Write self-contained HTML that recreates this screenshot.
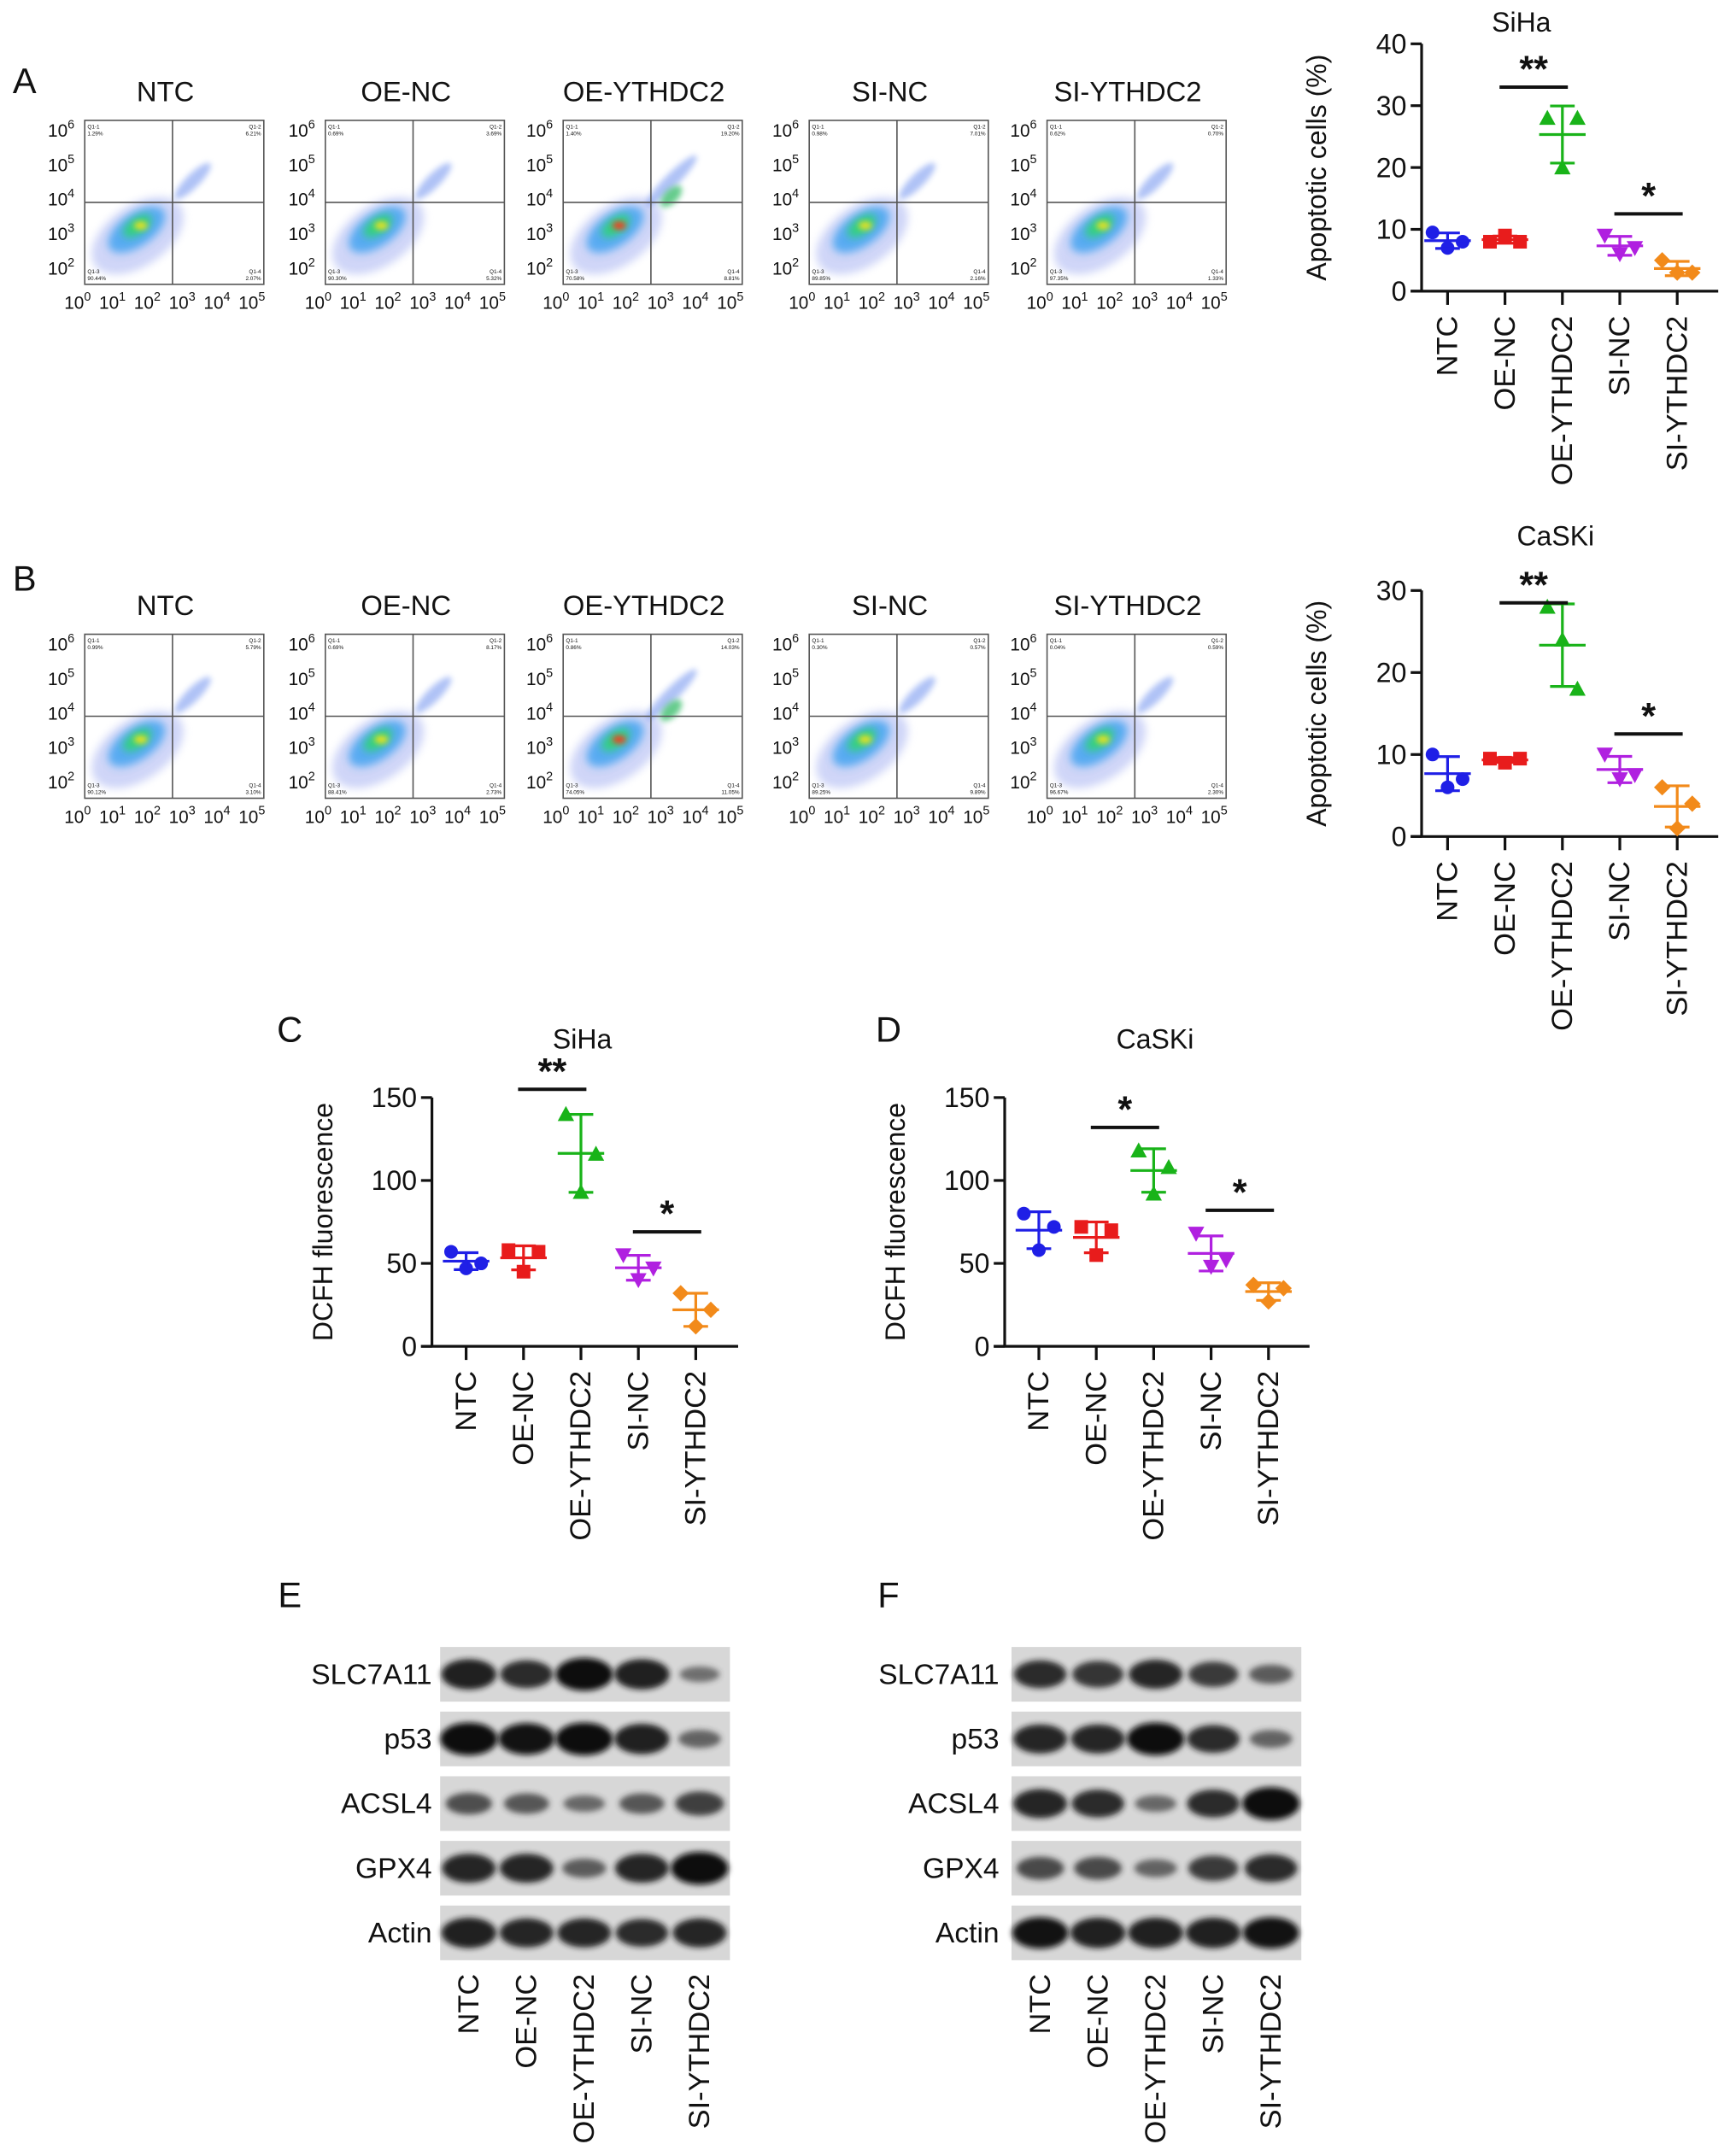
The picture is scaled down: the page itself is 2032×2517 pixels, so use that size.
<!DOCTYPE html>
<html><head><meta charset="utf-8"><style>
html,body{margin:0;padding:0;background:#fff;}
svg{display:block;font-family:"Liberation Sans",Arial,sans-serif;}
</style></head><body>
<svg id="fig" xmlns="http://www.w3.org/2000/svg" width="2032" height="2517" viewBox="0 0 1270 1573">
<defs>
<filter id="blur" x="-50%" y="-50%" width="200%" height="200%"><feGaussianBlur stdDeviation="2.2"/></filter>
<filter id="fblur" x="-50%" y="-50%" width="200%" height="200%"><feGaussianBlur stdDeviation="3"/></filter>
</defs>
<rect width="1270" height="1573" fill="#fff"/>
<g id="root"></g>
</svg>
<script>
// ---- data ----
var categories = ["NTC","OE-NC","OE-YTHDC2","SI-NC","SI-YTHDC2"];
var colors = ["#1f1fe6","#e81c1c","#19b319","#b020e0","#f28a1a"];
var sihaApopValues = [[9.5,7,8],[8,9,8],[28,20,28],[9,6,7],[5,3,3]];
var caskiApopValues = [[10,6,7],[9.5,9,9.5],[28,24,18],[10,7,7.5],[6,1,4]];
var sihaDcfhValues = [[57,47,50],[58,45,57],[140,93,116],[55,40,47],[32,12,22]];
var caskiDcfhValues = [[80,58,72],[72,55,70],[118,92,108],[68,48,52],[37,27,35]];
var apopTicksA = [0,10,20,30,40];
var apopTicksB = [0,10,20,30];
var dcfhTicks = [0,50,100,150];
var blotRows = ["SLC7A11","p53","ACSL4","GPX4","Actin"];
var blotE = [[0.9,0.8,1.0,0.9,0.3],[1,0.95,1.0,0.9,0.4],[0.55,0.5,0.35,0.5,0.65],[0.85,0.85,0.45,0.85,1],[0.9,0.85,0.85,0.8,0.85]];
var blotF = [[0.8,0.75,0.85,0.7,0.45],[0.85,0.85,1,0.8,0.4],[0.85,0.8,0.35,0.8,1],[0.6,0.6,0.4,0.7,0.8],[0.95,0.9,0.9,0.9,0.95]];
var quadA = [["1.29%","6.21%","90.44%","2.07%"],["0.69%","3.69%","90.30%","5.32%"],["1.40%","19.20%","70.58%","8.81%"],["0.98%","7.01%","89.85%","2.16%"],["0.62%","0.70%","97.35%","1.33%"]];
var quadB = [["0.99%","5.79%","90.12%","3.10%"],["0.69%","8.17%","88.41%","2.73%"],["0.86%","14.03%","74.05%","11.05%"],["0.30%","0.57%","89.25%","9.89%"],["0.04%","0.59%","96.67%","2.30%"]];
// ---- helpers ----
var NS="http://www.w3.org/2000/svg";
var root=document.getElementById('root');
function mk(tag,attrs,parent,text){var e=document.createElementNS(NS,tag);for(var k in attrs)e.setAttribute(k,attrs[k]);if(text!==undefined)e.textContent=text;(parent||root).appendChild(e);return e;}
function txt(x,y,s,size,parent,anchor,extra){var a={x:x,y:y,'font-size':size,'text-anchor':anchor||'middle',fill:'#111'};if(extra)for(var k in extra)a[k]=extra[k];return mk('text',a,parent,s);}
function sup(x,y,e,parent){var t=mk('text',{x:x,y:y,'font-size':13,'text-anchor':'start',fill:'#111'},parent);
 var a=document.createElementNS(NS,'tspan');a.textContent='10';t.appendChild(a);var b=document.createElementNS(NS,'tspan');b.setAttribute('dy','-6');b.setAttribute('font-size','9');b.textContent=e;t.appendChild(b);return t;}
function mean(a){return a.reduce(function(s,v){return s+v;},0)/a.length;}
function sd(a){var m=mean(a);return Math.sqrt(a.reduce(function(s,v){return s+(v-m)*(v-m);},0)/(a.length-1));}
function marker(g,shape,x,y,c){var r=5;var p;
 if(shape==0)p=mk('circle',{cx:x,cy:y,r:r,fill:c},g);
 else if(shape==1)p=mk('rect',{x:x-r,y:y-r,width:2*r,height:2*r,fill:c},g);
 else if(shape==2)p=mk('polygon',{points:(x)+','+(y-r-1)+' '+(x+r+1)+','+(y+r)+' '+(x-r-1)+','+(y+r),fill:c},g);
 else if(shape==3)p=mk('polygon',{points:(x-r-1)+','+(y-r)+' '+(x+r+1)+','+(y-r)+' '+x+','+(y+r+1),fill:c},g);
 else p=mk('polygon',{points:x+','+(y-r-1)+' '+(x+r+1)+','+y+' '+x+','+(y+r+1)+' '+(x-r-1)+','+y,fill:c},g);
 }

function scatterChart(o){
 var g=mk('g',{});
 var ymax=o.ticks[o.ticks.length-1];
 function Y(v){return o.y0-(v/ymax)*(o.y0-o.ytop);}
 function X(i){return o.x0+o.x1+i*o.dx;}
 var t=txt(o.tx,o.ty,o.title,20,g);
 var ax=mk('line',{x1:o.x0,y1:o.ytop,x2:o.x0,y2:o.y0,stroke:'#111','stroke-width':2},g);
 var ax2=mk('line',{x1:o.x0-8,y1:o.y0,x2:o.xend,y2:o.y0,stroke:'#111','stroke-width':2},g);
 o.ticks.forEach(function(v){mk('line',{x1:o.x0-8,y1:Y(v),x2:o.x0,y2:Y(v),stroke:'#111','stroke-width':2},g);
  var l=txt(o.x0-11,Y(v)+7,String(v),20,g,'end');});
 var yl=txt(0,0,o.ylabel,20,g,'middle',{transform:'translate('+o.ylx+','+((o.y0+o.ytop)/2)+') rotate(-90)'});
 categories.forEach(function(c,i){var x=X(i);mk('line',{x1:x,y1:o.y0,x2:x,y2:o.y0+10,stroke:'#111','stroke-width':2},g);
  var l=txt(0,0,c,21.5,g,'end',{transform:'translate('+(x+7)+','+(o.y0+18)+') rotate(-90)'});});
 var offs=[-11,0,11];
 o.values.forEach(function(vals,i){var x=X(i),c=colors[i];var m=mean(vals),s=sd(vals);
  var gg=mk('g',{},g);
  vals.forEach(function(v,j){marker(gg,i,x+offs[j],Y(v),c);});
  mk('line',{x1:x-17,y1:Y(m),x2:x+17,y2:Y(m),stroke:c,'stroke-width':2},gg);
  mk('line',{x1:x,y1:Y(m+s),x2:x,y2:Y(m-s),stroke:c,'stroke-width':2},gg);
  mk('line',{x1:x-9,y1:Y(m+s),x2:x+9,y2:Y(m+s),stroke:c,'stroke-width':2},gg);
  mk('line',{x1:x-9,y1:Y(m-s),x2:x+9,y2:Y(m-s),stroke:c,'stroke-width':2},gg);});
 o.sig.forEach(function(s){var a=X(s[0])-4,b=X(s[1])+4,y=Y(s[2]);
  var l=mk('line',{x1:a,y1:y,x2:b,y2:y,stroke:'#111','stroke-width':2.5},g);
  var st=txt((a+b)/2,y-4,s[3],27,g,'middle',{'font-weight':'bold'});});
}

function flowPlot(cx,top,title,q,seed,type){
 var g=mk('g',{});
 var L=cx-59,W=131,H=120,B=top+H;
 var t=txt(cx,top-14,title,20.5,g);
 var bx=L+38,by=top+80;
 mk('ellipse',{cx:bx-2,cy:by+4,rx:38,ry:22,fill:'#a8b4f2',opacity:0.55,filter:'url(#fblur)',transform:'rotate(-35 '+bx+' '+by+')'},g);
 mk('ellipse',{cx:bx,cy:by,rx:24,ry:12,fill:'#3aa0f0',opacity:0.8,filter:'url(#fblur)',transform:'rotate(-35 '+bx+' '+by+')'},g);
 mk('ellipse',{cx:bx+2,cy:by-2,rx:12,ry:6,fill:'#30d080',filter:'url(#fblur)',transform:'rotate(-35 '+bx+' '+by+')'},g);
 mk('ellipse',{cx:bx+3,cy:by-3,rx:5,ry:3,fill:type==2?'#f04020':'#e8e020',filter:'url(#blur)'},g);
 var ux=L+W*0.56,uy=top+50;
 mk('ellipse',{cx:ux+8,cy:uy,rx:type==2?26:18,ry:5,fill:'#7a9af0',opacity:0.6,filter:'url(#blur)',transform:'rotate(-45 '+ux+' '+uy+')'},g);
 if(type==2)mk('ellipse',{cx:ux,cy:uy+8,rx:10,ry:5,fill:'#40c070',opacity:0.8,filter:'url(#blur)',transform:'rotate(-45 '+ux+' '+uy+')'},g);
 mk('rect',{x:L,y:top,width:W,height:H,fill:'none',stroke:'#555','stroke-width':1},g);
 var qx=L+W*0.49,qy=top+H*0.5;
 mk('line',{x1:qx,y1:top,x2:qx,y2:B,stroke:'#555','stroke-width':1},g);
 mk('line',{x1:L,y1:qy,x2:L+W,y2:qy,stroke:'#555','stroke-width':1},g);
 var qs=4;
 txt(L+2,top+6,'Q1-1',qs,g,'start');txt(L+2,top+11,q[0],qs,g,'start');
 txt(L+W-2,top+6,'Q1-2',qs,g,'end');txt(L+W-2,top+11,q[1],qs,g,'end');
 txt(L+2,B-8,'Q1-3',qs,g,'start');txt(L+2,B-3,q[2],qs,g,'start');
 txt(L+W-2,B-8,'Q1-4',qs,g,'end');txt(L+W-2,B-3,q[3],qs,g,'end');
 ['6','5','4','3','2'].forEach(function(e,i){sup(L-27,top+12+i*25.2,e,g);});
 for(var i=0;i<6;i++)sup(L-15+i*25.5,B+18,String(i),g);
}

function blot(x0,labelX,top,rows,vals,name){
 var g=mk('g',{});
 var W=212,H=40,gap=47.3;
 rows.forEach(function(r,ri){var y=top+ri*gap;
  var bg=mk('rect',{x:x0,y:y,width:W,height:H,fill:'#d7d7d7'},g);
  var l=txt(labelX,y+H/2+7,r,21,g,'end');
  vals[ri].forEach(function(v,i){var cx=x0+21+i*42.2;var band=mk('ellipse',{cx:cx,cy:y+H/2,rx:12+9*v,ry:3+9*v,fill:'rgb('+Math.round(60-45*v)+','+Math.round(60-45*v)+','+Math.round(60-45*v)+')',filter:'url(#blur)',opacity:0.45+0.55*v},g);
   });
 });
 categories.forEach(function(c,i){var cx=x0+21+i*42.2;var l=txt(0,0,c,21.5,g,'end',{transform:'translate('+(cx+7)+','+(top+4*gap+H+10)+') rotate(-90)'});});
}

[['A',18,68],['B',18,432],['C',212,762],['D',650,762],['E',212,1176],['F',650,1176]].forEach(function(p){var t=txt(p[1],p[2],p[0],26,root,'middle');});

var flowCx=[121,297,471,651,825];
categories.forEach(function(c,i){flowPlot(flowCx[i],88,c,quadA[i],i,i);});
categories.forEach(function(c,i){flowPlot(flowCx[i],464,c,quadB[i],i,i);});

scatterChart({name:'chart-a-siha',title:'SiHa',tx:1113,ty:23,x0:1040,x1:19,dx:42,xend:1257,y0:213,ytop:32,ticks:apopTicksA,values:sihaApopValues,ylabel:'Apoptotic cells (%)',ylx:970,sig:[[1,2,33,'**'],[3,4,12.5,'*']]});
scatterChart({name:'chart-b-caski',title:'CaSKi',tx:1138,ty:399,x0:1040,x1:19,dx:42,xend:1257,y0:612,ytop:432,ticks:apopTicksB,values:caskiApopValues,ylabel:'Apoptotic cells (%)',ylx:970,sig:[[1,2,28.5,'**'],[3,4,12.5,'*']]});
scatterChart({name:'chart-c-siha-dcfh',title:'SiHa',tx:426,ty:767,x0:316,x1:25,dx:42,xend:540,y0:985,ytop:803,ticks:dcfhTicks,values:sihaDcfhValues,ylabel:'DCFH fluorescence',ylx:243,sig:[[1,2,155,'**'],[3,4,69,'*']]});
scatterChart({name:'chart-d-caski-dcfh',title:'CaSKi',tx:845,ty:767,x0:735,x1:25,dx:42,xend:958,y0:985,ytop:803,ticks:dcfhTicks,values:caskiDcfhValues,ylabel:'DCFH fluorescence',ylx:662,sig:[[1,2,132,'*'],[3,4,82,'*']]});

blot(322,316,1205,blotRows,blotE,'western-blot-e');
blot(740,731,1205,blotRows,blotF,'western-blot-f');
</script>
</body></html>
